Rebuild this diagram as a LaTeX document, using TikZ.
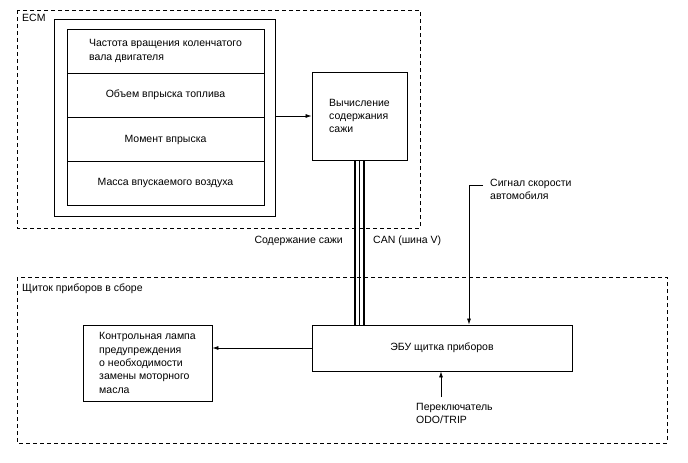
\documentclass[tikz,border=0pt]{standalone}
\usepackage{fontspec}
\setmainfont{Liberation Sans}
\usetikzlibrary{arrows.meta}
\begin{document}
\begin{tikzpicture}[
  x=1pt, y=-1pt,
  every node/.style={font=\fontsize{10.5}{13.4}\selectfont, inner sep=0pt},
  block/.style={draw, line width=0.9pt},
  row/.style={draw, line width=0.9pt, minimum width=197pt, minimum height=44pt},
  group/.style={draw, line width=0.8pt, dash pattern=on 4pt off 3pt},
  signal/.style={draw, line width=0.7pt, -{Latex[length=6pt,width=4pt]}},
  bus/.style={draw, line width=2.8pt},
  busmid/.style={draw, line width=0.8pt}
]
\useasboundingbox (0,0) rectangle (688,463);

% ECM
\draw[group] (17,10) rectangle (420,228);
\node[anchor=north west] (ecm) at (22,14) {ECM};

\node[block, minimum width=221pt, minimum height=197pt] (ecmin) at (164.5,117.5) {};
\node[row] (crank) at (165.5,51) {};
\node[align=left] (crankt) at (crank.center) {Частота вращения коленчатого\\вала двигателя};
\node[row] (fuel) at (165.5,95) {Объем впрыска топлива};
\node[row] (timing) at (165.5,139.5) {Момент впрыска};
\node[row] (air) at (165.5,183) {Масса впускаемого воздуха};

\node[block, minimum width=95pt, minimum height=88pt, align=left] (soot) at (359.5,116) {Вычисление\\содержания\\сажи};
\draw[signal] (ecmin.east |- soot.west) -- (soot.west);

% Щиток приборов
\draw[group] (17,277) rectangle (667,443);
\node[anchor=north west] (meter) at (22,284) {Щиток приборов в сборе};

\node[block, minimum width=260pt, minimum height=46pt] (ebu) at (442,348) {ЭБУ щитка приборов};
\node[block, minimum width=129pt, minimum height=76pt, align=left] (lamp) at (147.5,363) {Контрольная лампа\\предупреждения\\о необходимости\\замены моторного\\масла};
\draw[signal] (ebu.west) -- (lamp.east |- ebu.west);

% CAN
\draw[bus] ([xshift=-4.5pt]soot.south) -- ([xshift=-4.5pt]soot.south |- ebu.north);
\draw[busmid] (soot.south) -- (soot.south |- ebu.north);
\draw[bus] ([xshift=4.5pt]soot.south) -- ([xshift=4.5pt]soot.south |- ebu.north);
\node[anchor=east] (sootl) at (343,241) {Содержание сажи};
\node[anchor=west] (canl) at (373,241) {CAN (шина V)};

% speed and switch
\node[anchor=north west, align=left] (speed) at (490,179) {Сигнал скорости\\автомобиля};
\coordinate (speedc) at (469,185);
\draw[signal] ([xshift=-7pt]speed.west |- speedc) -- (speedc) -- (speedc |- ebu.north);
\node[anchor=north west, align=left] (odo) at (416,403) {Переключатель\\ODO/TRIP};
\coordinate (odoc) at (441,397);
\draw[signal] (odoc) -- (odoc |- ebu.south);
\end{tikzpicture}
\end{document}
